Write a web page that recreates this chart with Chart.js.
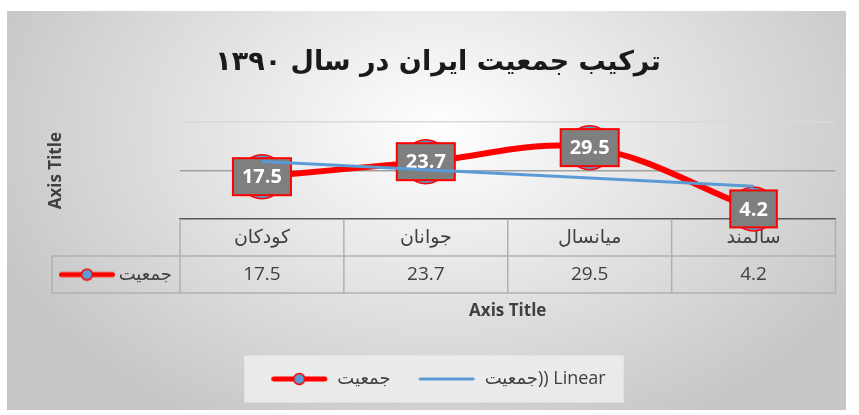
<!DOCTYPE html>
<html>
<head>
<meta charset="utf-8">
<script src="https://cdn.jsdelivr.net/npm/chart.js@4/dist/chart.umd.min.js"></script>
<style>
  html, body { margin: 0; padding: 0; background: #fff; }
</style>
</head>
<body>
<canvas id="chart" width="859" height="415"></canvas>
<script>
const titleText = 'ترکیب جمعیت ایران در سال ۱۳۹۰';
const categories = ['کودکان', 'جوانان', 'میانسال', 'سالمند'];
const population = [17.5, 23.7, 29.5, 4.2];
// trendline at its two ends
const trendLine = [23.8, null, null, 13.6];
const seriesName = 'جمعیت';
const trendName = 'جمعیت)) Linear';
const yTicks = [0, 20, 40];

const FONT = '"Open Sans", "DejaVu Sans", sans-serif';
const rowH = 37;

function makeKey(withDot, color, lw) {
    const c = document.createElement('canvas');
    c.width = 58;
    c.height = 14;
    const g = c.getContext('2d');
    g.strokeStyle = color;
    g.lineWidth = lw;
    g.lineCap = 'round';
    g.beginPath();
    g.moveTo(lw / 2 + 1, 7);
    g.lineTo(57 - lw / 2, 7);
    g.stroke();
    if (withDot) {
        g.beginPath();
        g.arc(29, 7, 5.5, 0, Math.PI * 2);
        g.fillStyle = '#5b9bd5';
        g.fill();
        g.strokeStyle = '#ff0000';
        g.lineWidth = 1.5;
        g.stroke();
    }
    return c;
}

const redKey = makeKey(true, '#ff0000', 5);
const blueKey = makeKey(false, '#5b9bd5', 3);

// grey gradient frame + legend patch
const frame = {
    id: 'frame',
    beforeDraw(chart) {
        const ctx = chart.ctx;
        ctx.save();
        ctx.fillStyle = '#ffffff';
        ctx.fillRect(0, 0, chart.width, chart.height);
        ctx.translate(440, 130);
        ctx.scale(1, 0.7);
        const g = ctx.createRadialGradient(0, 0, 0, 0, 0, 480);
        g.addColorStop(0, '#ffffff');
        g.addColorStop(1, '#c6c6c6');
        ctx.fillStyle = g;
        ctx.fillRect(7 - 440, (11 - 130) / 0.7, 839, 399 / 0.7);
        ctx.restore();

        const lg = chart.legend;
        if (lg && lg.legendHitBoxes && lg.legendHitBoxes.length) {
            const boxes = lg.legendHitBoxes;
            const l = Math.min(...boxes.map(b => b.left)) - 26;
            const r = Math.max(...boxes.map(b => b.left + b.width)) + 18;
            const cy = lg.top + lg.options.labels.padding + 9;
            ctx.save();
            ctx.fillStyle = 'rgba(238,238,238,0.85)';
            ctx.fillRect(l, cy - 23.5, r - l, 47);
            ctx.restore();
        }
    }
};

// data table lines under the x axis
const dataTable = {
    id: 'dataTable',
    beforeDatasetsDraw(chart) {
        const {ctx, chartArea, scales: {x}} = chart;
        const step = x.width / categories.length;
        const top = chartArea.bottom, mid = top + rowH, bot = top + 2 * rowH;
        const tableLeft = 52;
        ctx.save();
        ctx.strokeStyle = '#b0b0b0';
        ctx.lineWidth = 1.5;
        const line = (x1, y1, x2, y2) => {
            ctx.beginPath();
            ctx.moveTo(x1, y1);
            ctx.lineTo(x2, y2);
            ctx.stroke();
        };
        for (let i = 0; i <= categories.length; i++) {
            const px = x.left + i * step;
            line(px, top, px, bot);
        }
        line(tableLeft, mid, x.right, mid);
        line(tableLeft, bot, x.right, bot);
        line(tableLeft, mid, tableLeft, bot);
        ctx.drawImage(redKey, 58, (mid + bot) / 2 - 7);
        ctx.fillStyle = '#404040';
        ctx.font = '18px ' + FONT;
        ctx.textAlign = 'right';
        ctx.textBaseline = 'middle';
        ctx.fillText(seriesName, x.left - 8, (mid + bot) / 2);
        ctx.restore();
    }
};

// grey value boxes on the red series
const valueBoxes = {
    id: 'valueBoxes',
    afterDatasetDraw(chart, args) {
        if (args.index !== 1) return;
        const ctx = chart.ctx;
        ctx.save();
        ctx.font = 'bold 20px ' + FONT;
        ctx.textAlign = 'center';
        ctx.textBaseline = 'middle';
        args.meta.data.forEach((pt, i) => {
            const txt = String(population[i]);
            const w = ctx.measureText(txt).width + 18, h = 37;
            ctx.fillStyle = '#7f7f7f';
            ctx.fillRect(pt.x - w / 2, pt.y - h / 2, w, h);
            ctx.strokeStyle = '#ff0000';
            ctx.lineWidth = 2;
            ctx.strokeRect(pt.x - w / 2, pt.y - h / 2, w, h);
            ctx.fillStyle = '#ffffff';
            ctx.fillText(txt, pt.x, pt.y + 1);
        });
        ctx.restore();
    }
};

const data = {
    labels: categories.map((c, i) => [c, String(population[i])]),
    datasets: [
        {
            label: trendName,
            data: trendLine,
            borderColor: '#5b9bd5',
            borderWidth: 3,
            pointRadius: 0,
            spanGaps: true,
            tension: 0,
            clip: false
        },
        {
            label: seriesName,
            data: population,
            borderColor: '#ff0000',
            borderWidth: 6,
            pointRadius: 22,
            pointHoverRadius: 22,
            pointBackgroundColor: '#5b9bd5',
            pointBorderColor: '#ff0000',
            pointBorderWidth: 1.5,
            tension: 0.35,
            clip: false
        }
    ]
};

const config = {
    type: 'line',
    data: data,
    options: {
        responsive: false,
        animation: false,
        devicePixelRatio: 1,
        events: [],
        layout: {
            padding: { top: 11, left: 36, right: 19, bottom: 17 }
        },
        plugins: {
            title: {
                display: true,
                text: titleText,
                color: '#1a1a1a',
                font: { family: '"DejaVu Sans", sans-serif', size: 27, weight: 'bold', lineHeight: 1.2 },
                padding: { top: 35.8, bottom: 43 }
            },
            legend: {
                position: 'bottom',
                labels: {
                    usePointStyle: true,
                    pointStyleWidth: 58,
                    padding: 27,
                    color: '#404040',
                    font: { family: FONT, size: 18 },
                    generateLabels: () => [
                        { text: seriesName, pointStyle: redKey, datasetIndex: 1, fontColor: '#404040', lineWidth: 0, strokeStyle: 'transparent', fillStyle: 'transparent' },
                        { text: trendName, pointStyle: blueKey, datasetIndex: 0, fontColor: '#404040', lineWidth: 0, strokeStyle: 'transparent', fillStyle: 'transparent' }
                    ]
                }
            },
            tooltip: { enabled: false }
        },
        scales: {
            x: {
                offset: true,
                grid: { display: true, color: 'transparent', drawTicks: false },
                border: { display: true, color: '#595959', width: 1.5 },
                ticks: {
                    padding: 0,
                    autoSkip: false,
                    maxRotation: 0,
                    color: '#404040',
                    font: { family: FONT, size: 19, lineHeight: rowH + 'px' }
                },
                title: {
                    display: true,
                    text: 'Axis Title',
                    color: '#404040',
                    font: { family: FONT, size: 17, weight: 'bold', lineHeight: 1.2 },
                    padding: { top: 8, bottom: 21.5 }
                }
            },
            y: {
                min: 0,
                max: 40,
                afterBuildTicks: scale => { scale.ticks = yTicks.map(v => ({ value: v })); },
                afterFit: scale => { scale.width = 144; },
                ticks: { display: false },
                grid: {
                    drawTicks: false,
                    color: ctx => ctx.tick.value === 0 ? 'transparent' : (ctx.tick.value === 40 ? '#d9d9d9' : '#a0a0a0'),
                    lineWidth: 1.5
                },
                border: { display: false },
                title: {
                    display: true,
                    text: 'Axis Title',
                    color: '#404040',
                    font: { family: FONT, size: 17, weight: 'bold', lineHeight: 1.2 },
                    padding: { top: 10, bottom: 0 }
                }
            }
        }
    },
    plugins: [frame, dataTable, valueBoxes]
};

const chart = new Chart(document.getElementById('chart'), config);
</script>
</body>
</html>
